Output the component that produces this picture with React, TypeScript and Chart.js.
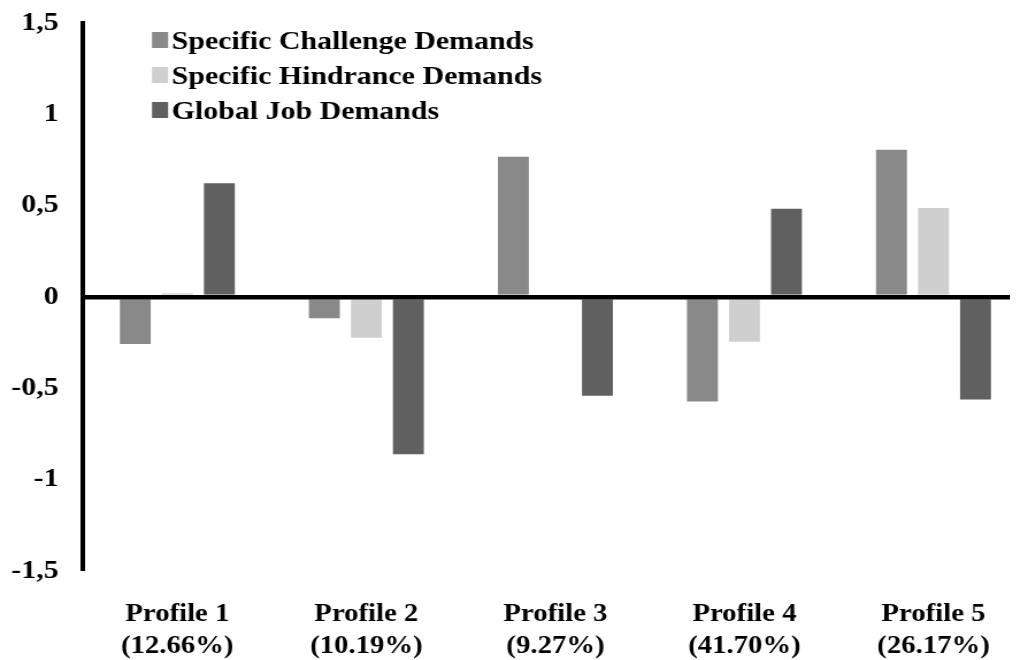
import React, { useEffect, useRef } from "react";
import { Chart, registerables } from "chart.js";

Chart.register(...registerables);

const categories: string[][] = [
  ["Profile 1", "(12.66%)"],
  ["Profile 2", "(10.19%)"],
  ["Profile 3", "(9.27%)"],
  ["Profile 4", "(41.70%)"],
  ["Profile 5", "(26.17%)"],
];
const challengeValues = [-0.263, -0.122, 0.773, -0.577, 0.811];
const hindranceValues = [0.026, -0.228, 0, -0.25, 0.493];
const globalValues = [0.628, -0.867, -0.546, 0.489, -0.566];
const seriesNames = [
  "Specific Challenge Demands",
  "Specific Hindrance Demands",
  "Global Job Demands",
];
const seriesColors = ["#898989", "#d0cfd0", "#606060"];
const yTicks = [-1.5, -1, -0.5, 0, 0.5, 1, 1.5];

const FONT = "'Liberation Serif', 'Times New Roman', serif";
// the reference text is slightly wider than tall: the canvas is drawn narrower and stretched
const SX = 1.15;
const CANVAS_W = 894;
const CANVAS_H = 660;

const legendPlugin = {
  id: "customLegend",
  afterDraw(chart: any) {
    const ctx = chart.ctx;
    ctx.save();
    ctx.font = `bold 26px ${FONT}`;
    ctx.textBaseline = "middle";
    ctx.textAlign = "left";
    const x0 = 132.2;
    const ys = [40, 75, 110];
    chart.data.datasets.forEach((ds: any, i: number) => {
      ctx.fillStyle = ds.backgroundColor;
      ctx.fillRect(x0, ys[i] - 8, 14, 16);
      ctx.fillStyle = "#000";
      ctx.fillText(ds.label, 149.3, ys[i] + 2);
    });
    ctx.restore();
  },
};

export default function App() {
  const ref = useRef<HTMLCanvasElement | null>(null);
  useEffect(() => {
    if (!ref.current) return;
    const data = [challengeValues, hindranceValues, globalValues];
    const chart = new Chart(ref.current, {
      type: "bar",
      data: {
        labels: categories,
        datasets: seriesNames.map((name, i) => ({
          label: name,
          data: data[i],
          backgroundColor: seriesColors[i],
          borderColor: "rgba(255,255,255,0.35)",
          borderWidth: 1,
          barPercentage: 0.79,
          categoryPercentage: 0.667,
        })),
      },
      options: {
        responsive: false,
        animation: false,
        maintainAspectRatio: false,
        layout: { padding: { top: 23, right: 0, bottom: 0, left: 0 } },
        plugins: {
          legend: { display: false },
          tooltip: { enabled: false },
        },
        scales: {
          x: {
            grid: {
              display: true,
              drawTicks: false,
              color: (c: any) => (c.index === 0 ? "#000" : "rgba(0,0,0,0)"),
              lineWidth: (c: any) => (c.index === 0 ? 4 : 0),
            },
            border: { display: false },
            ticks: {
              color: "#000",
              padding: 28,
              font: { family: FONT, size: 25, weight: "bold", lineHeight: 1.28 },
              maxRotation: 0,
              autoSkip: false,
            },
            afterFit: (s: any) => {
              s.height = 89;
            },
          },
          y: {
            min: -1.5,
            max: 1.5,
            afterBuildTicks: (s: any) => {
              s.ticks = yTicks.map((v) => ({ value: v }));
            },
            grid: {
              drawTicks: false,
              color: (c: any) => (c.tick && c.tick.value === 0 ? "#000" : "rgba(0,0,0,0)"),
              lineWidth: (c: any) => (c.tick && c.tick.value === 0 ? 4.5 : 0),
              z: 1,
            },
            border: { display: true, color: "#000", width: 4, z: 2 },
            ticks: {
              color: "#000",
              padding: 21,
              font: { family: FONT, size: 26, weight: "bold" },
              callback: (v: any) => String(v).replace(".", ","),
            },
            afterFit: (s: any) => {
              s.width = 72;
              s.paddingTop = 0;
              s.paddingBottom = 0;
            },
          },
        },
      },
      plugins: [legendPlugin],
    });
    return () => chart.destroy();
  }, []);
  return (
    <div
      style={{
        margin: "-8px 0 0 -8px",
        width: 1018,
        height: 660,
        overflow: "hidden",
        background: "#fff",
      }}
    >
      <canvas
        ref={ref}
        width={CANVAS_W}
        height={CANVAS_H}
        style={{ display: "block", width: CANVAS_W * SX, height: CANVAS_H }}
      />
    </div>
  );
}
